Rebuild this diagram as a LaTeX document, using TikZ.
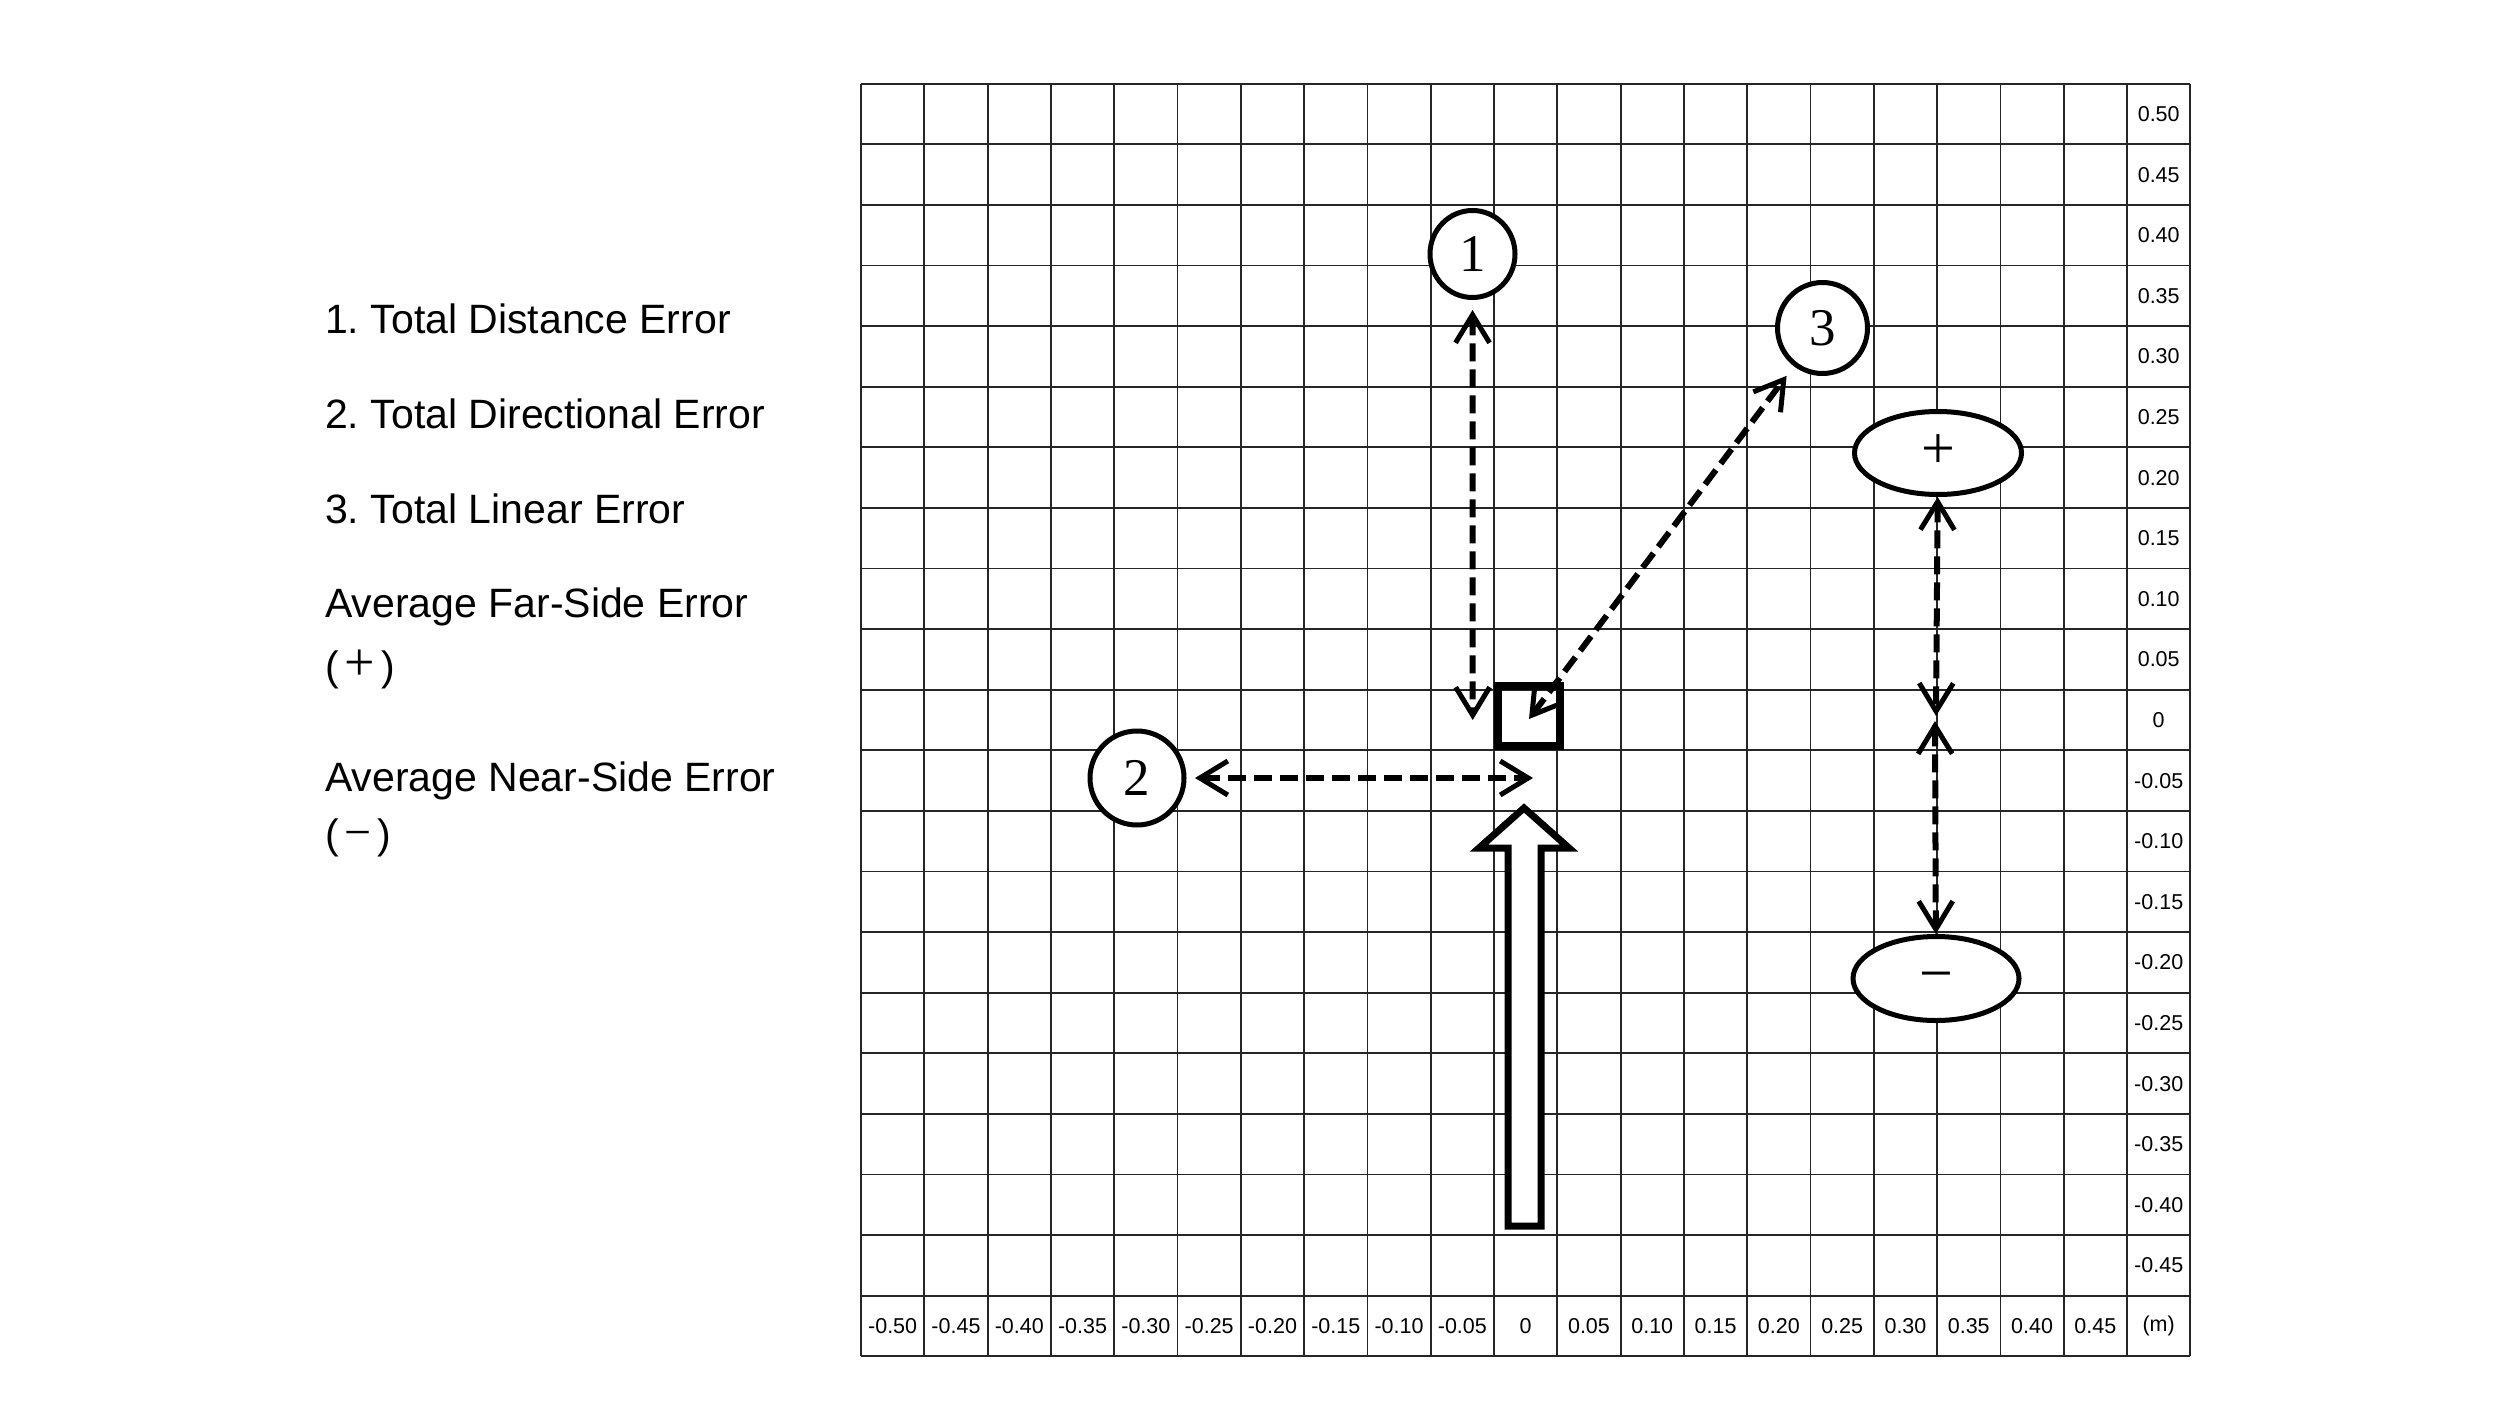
\documentclass[tikz,border=0pt]{standalone}
\usepackage{fontspec}
\setmainfont{Liberation Sans}
\newfontfamily\serifnum{Liberation Serif}
\usetikzlibrary{arrows.meta,shapes.geometric}
\frenchspacing
\begin{document}
\begin{tikzpicture}[x=1pt,y=-1pt,
  gridline/.style={line width=1.8pt,draw=black!85},
  tick/.style={font=\fontsize{21.5}{24}\selectfont, inner sep=0pt},
  legend/.style={font=\fontsize{41}{48}\selectfont, anchor=base west, inner sep=0pt},
  marker/.style={ellipse, draw, line width=5pt, inner sep=0pt, fill=white,
    font=\serifnum\fontsize{53}{60}\selectfont},
  signtext/.style={font=\serifnum\fontsize{60}{60}\selectfont},
  barb/.tip={Straight Barb[length=28pt,width=34pt,line width=5pt]},
  errarrow/.style={line width=6pt, dash pattern=on 18pt off 8pt, barb-barb},
]
\useasboundingbox (0,0) rectangle (2500,1426);
\fill[white] (0,0) rectangle (2500,1426);

% grid
\foreach \k in {0,...,21}{
  \draw[gridline] ({861+63.3*\k},83.7) -- ({861+63.3*\k},1356.3);
  \draw[gridline] (861,{83.7+60.6*\k}) -- (2190.3,{83.7+60.6*\k});
}

% tick labels
\foreach \lab [count=\j from 0] in {0.50,0.45,0.40,0.35,0.30,0.25,0.20,0.15,0.10,0.05,0,-0.05,-0.10,-0.15,-0.20,-0.25,-0.30,-0.35,-0.40,-0.45}
  \node[tick] (ry\j) at (2158.7,{114+60.6*\j}) {\lab};
\foreach \lab [count=\i from 0] in {-0.50,-0.45,-0.40,-0.35,-0.30,-0.25,-0.20,-0.15,-0.10,-0.05,0,0.05,0.10,0.15,0.20,0.25,0.30,0.35,0.40,0.45,{(m)}}
  \node[tick] (bx\i) at ({892.65+63.3*\i},1326) {\lab};

% legend
\node[legend] (l1) at (325,333.6) {1. Total Distance Error};
\node[legend] (l2) at (325,428.5) {2. Total Directional Error};
\node[legend] (l3) at (325,523) {3. Total Linear Error};
\node[legend] (l4) at (325,617) {Average Far-Side Error};
\node[legend] (l5) at (325,680) {(\hspace{6pt}{\serifnum\fontsize{54}{54}\selectfont +}\hspace{6pt})};
\node[legend] (l6) at (325,791) {Average Near-Side Error};
\node[legend] (l7) at (325,848) {(\hspace{6pt}{\serifnum\fontsize{48}{48}\selectfont −}\hspace{6pt})};

% big hollow arrow
\draw[line width=7pt, line join=miter, fill=white]
  (1508,1226) -- (1508,848) -- (1479,848) -- (1524,808) -- (1569,848)
  -- (1541,848) -- (1541,1226) -- cycle;

% target square
\node[draw, line width=8pt, minimum width=62pt, minimum height=60pt, inner sep=0pt] (tgt) at (1529,716) {};

% markers
\node[marker, minimum width=85pt, minimum height=87pt] (c1) at (1472.5,254) {1};
\node[marker, minimum width=94pt, minimum height=94pt] (c2) at (1137,778) {2};
\node[marker, minimum width=90pt, minimum height=91pt] (c3) at (1822.5,328) {3};
\node[marker, signtext, minimum width=167pt, minimum height=83pt] (ep) at (1938,453) {\raisebox{-0.25em}[0pt][0pt]{+}};
\node[marker, signtext, minimum width=166pt, minimum height=84pt] (en) at (1936,978.5) {\raisebox{-0.25em}[0pt][0pt]{−}};

% connector end points
\coordinate (a1end) at (1472.7,720);
\coordinate (a2end) at (1533,778);
\coordinate (a3end) at (1529,719);
\coordinate (m1) at (1936,716);
\coordinate (m2) at (1935,721);

% error arrows
\draw[errarrow, shorten <=10pt] (c1) -- (a1end);
\draw[errarrow, shorten <=8.5pt] (c2) -- (a2end);
\draw[errarrow, shorten >=12pt] (a3end) -- (c3);
\draw[errarrow] (ep) -- (m1);
\draw[errarrow] (m2) -- (en);
\end{tikzpicture}
\end{document}
